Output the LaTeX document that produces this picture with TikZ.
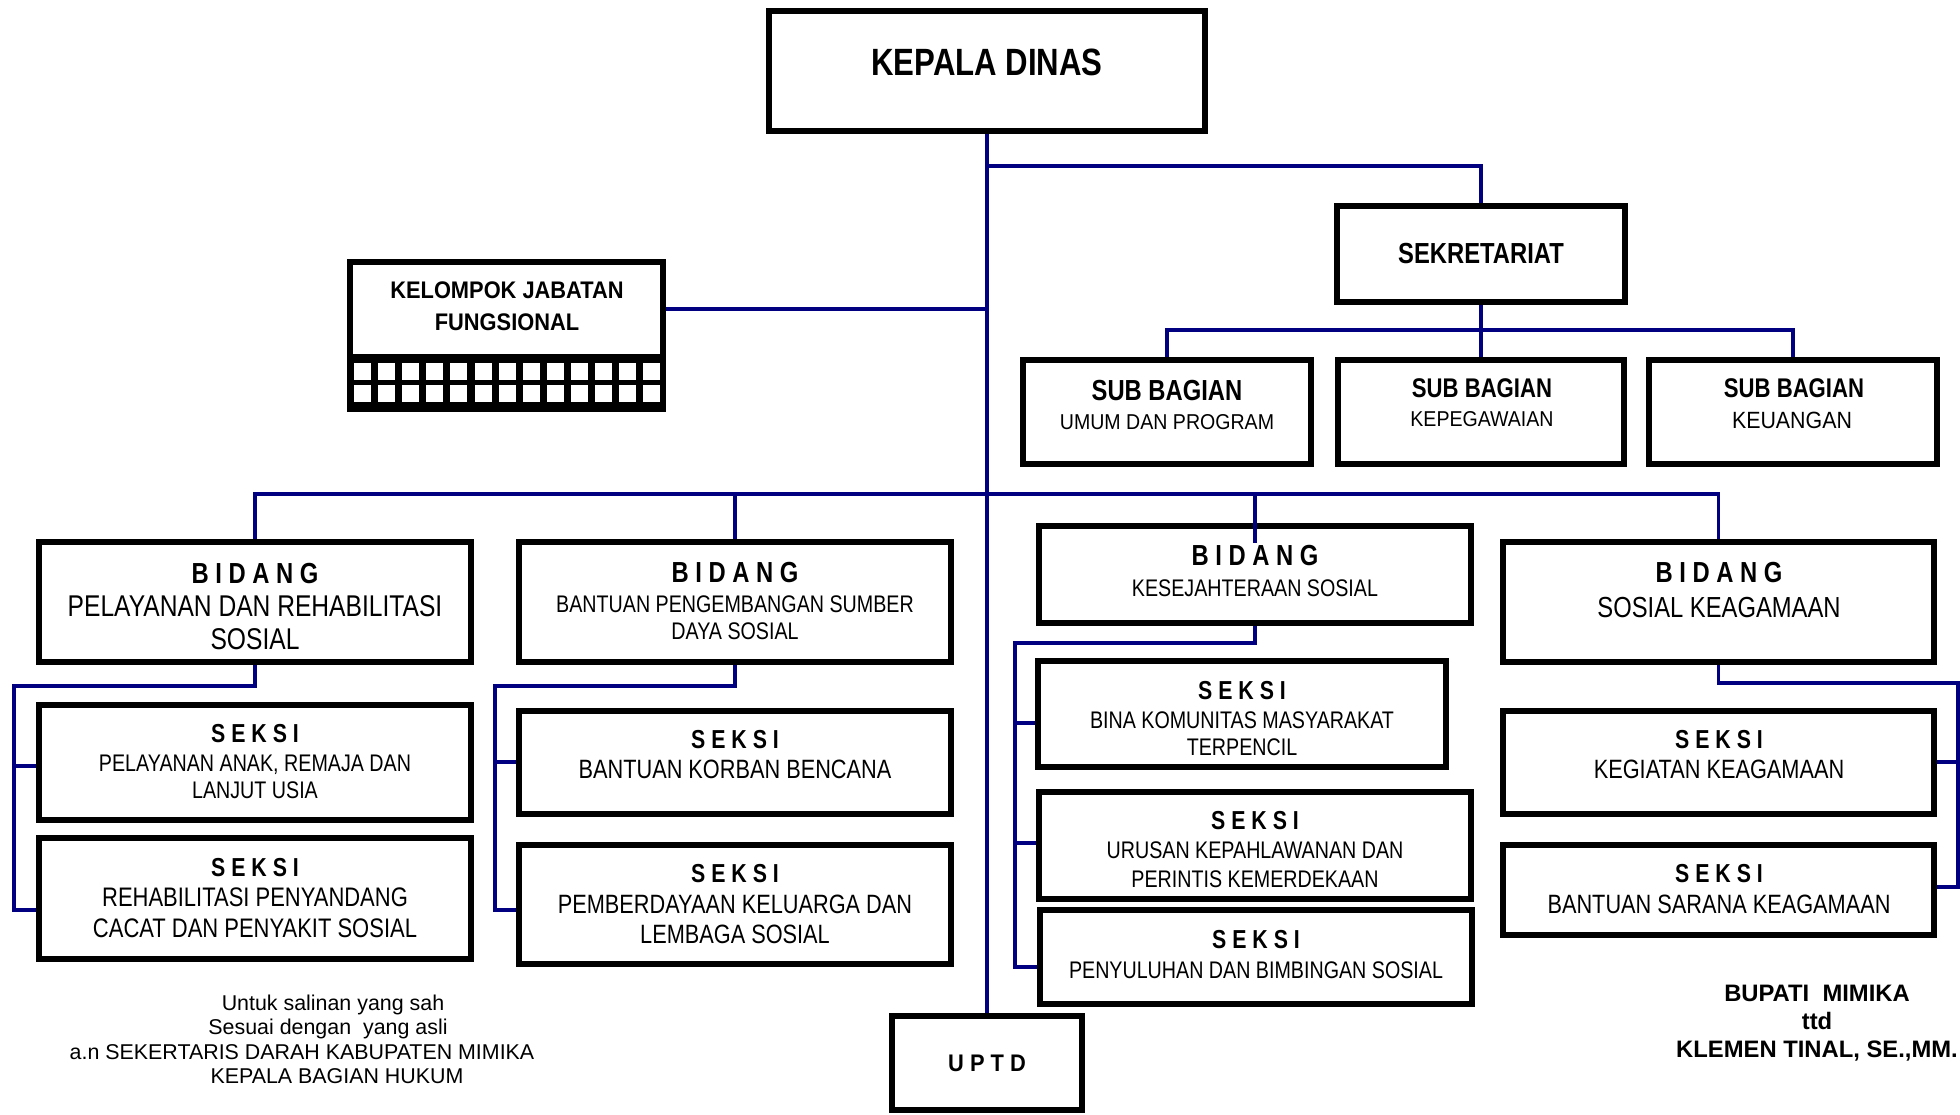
\documentclass[tikz,border=0pt]{standalone}
\usepackage{fontspec}
\setmainfont{Liberation Sans}
\newfontfamily\narrowf[FakeStretch=0.82]{Liberation Sans}
\newfontfamily\semif[FakeStretch=0.91]{Liberation Sans}
\newcommand\fNB[1]{\narrowf\bfseries\fontsize{#1}{#1}\selectfont}
\newcommand\fNR[1]{\narrowf\fontsize{#1}{#1}\selectfont}
\newcommand\fSB[1]{\semif\bfseries\fontsize{#1}{#1}\selectfont}
\newcommand\fSR[1]{\semif\fontsize{#1}{#1}\selectfont}
\newcommand\fPR[1]{\fontsize{#1}{#1}\selectfont}
\newcommand\fPB[1]{\bfseries\fontsize{#1}{#1}\selectfont}
\definecolor{navy}{RGB}{0,0,128}
\tikzset{
  box/.style={draw=black, line width=6pt, fill=white, inner sep=0pt},
  conn/.style={draw=navy, line width=3.2pt},
  txt/.style={anchor=base, inner sep=0pt},
}
% box by its outer corners: name, x1, y1, x2, y2
\newcommand\obox[5]{\node[box, minimum width={(#4-#2-6)*1pt}, minimum height={(#5-#3-6)*1pt}] (#1) at ({(#2+#4)/2},{(#3+#5)/2}) {};}
% one line of text on its baseline: name, font, position, text
\newcommand\lbl[4]{\node[txt, font=#2] (#1) at (#3) {#4};}
\begin{document}
\begin{tikzpicture}[x=1pt,y=-1pt]
\useasboundingbox (0,0) rectangle (1960,1114);
\fill[white] (0,0) rectangle (1960,1114);

% ---- boxes ----
\obox{kd}{766}{8}{1208}{134}
\obox{sek}{1334}{203}{1628}{305}
\obox{sb1}{1020}{357}{1314}{467}
\obox{sb2}{1335}{357}{1627}{467}
\obox{sb3}{1646}{357}{1940}{467}
\obox{kel}{347}{259}{666}{412}
\obox{b1}{36}{539}{474}{665}
\obox{s11}{36}{702}{474}{823}
\obox{s12}{36}{835}{474}{962}
\obox{b2}{516}{539}{954}{665}
\obox{s21}{516}{708}{954}{817}
\obox{s22}{516}{842}{954}{967}
\obox{b3}{1036}{523}{1474}{626}
\obox{s31}{1035}{658}{1449}{770}
\obox{s32}{1036}{789}{1474}{902}
\obox{s33}{1037}{907}{1475}{1007}
\obox{b4}{1500}{539}{1937}{665}
\obox{s41}{1500}{708}{1937}{817}
\obox{s42}{1500}{842}{1937}{938}
\obox{uptd}{889}{1013}{1085}{1113}

% grid strip of the functional group box
\fill[black] (347,354) rectangle (666,412);
\foreach \i in {0,...,12}
  \foreach \r in {363,385}
    \fill[white] ({354+24.1*\i},\r) rectangle +(17,16.5);

% ---- texts ----
\lbl{kdt}{\fNB{38}}{987,75}{KEPALA DINAS}
\lbl{sekt}{\fNB{29}}{1481,263}{SEKRETARIAT}
\lbl{kelt1}{\fSB{24}}{507,298}{KELOMPOK JABATAN}
\lbl{kelt2}{\fSB{24}}{507,330}{FUNGSIONAL}

\lbl{sb1a}{\fNB{29}}{1167,400}{SUB BAGIAN}
\lbl{sb1b}{\fSR{21.5}}{1167,429}{UMUM DAN PROGRAM}
\lbl{sb2a}{\fNB{27}}{1482,397}{SUB BAGIAN}
\lbl{sb2b}{\fSR{21.5}}{1482,426}{KEPEGAWAIAN}
\lbl{sb3a}{\fNB{27}}{1794,397}{SUB BAGIAN}
\lbl{sb3b}{\fSR{23.5}}{1792,428}{KEUANGAN}

\lbl{b1a}{\fNB{29}}{255,583}{B I D A N G}
\lbl{b1b}{\fNR{30}}{255,616}{PELAYANAN DAN REHABILITASI}
\lbl{b1c}{\fNR{30}}{255,649}{SOSIAL}
\lbl{s11a}{\fNB{26}}{255,742}{S E K S I}
\lbl{s11b}{\fNR{24}}{255,771}{PELAYANAN ANAK, REMAJA DAN}
\lbl{s11c}{\fNR{24}}{255,798}{LANJUT USIA}
\lbl{s12a}{\fNB{26}}{255,876}{S E K S I}
\lbl{s12b}{\fNR{26.8}}{255,906}{REHABILITASI PENYANDANG}
\lbl{s12c}{\fNR{26.8}}{255,937}{CACAT DAN PENYAKIT SOSIAL}

\lbl{b2a}{\fNB{29}}{735,582}{B I D A N G}
\lbl{b2b}{\fNR{24}}{735,612}{BANTUAN PENGEMBANGAN SUMBER}
\lbl{b2c}{\fNR{24}}{735,639}{DAYA SOSIAL}
\lbl{s21a}{\fNB{26}}{735,748}{S E K S I}
\lbl{s21b}{\fNR{26.5}}{735,778}{BANTUAN KORBAN BENCANA}
\lbl{s22a}{\fNB{26}}{735,882}{S E K S I}
\lbl{s22b}{\fNR{26.5}}{735,913}{PEMBERDAYAAN KELUARGA DAN}
\lbl{s22c}{\fNR{26.5}}{735,943}{LEMBAGA SOSIAL}

\lbl{b3a}{\fNB{29}}{1255,565}{B I D A N G}
\lbl{b3b}{\fNR{24}}{1255,596}{KESEJAHTERAAN SOSIAL}
\lbl{s31a}{\fNB{26}}{1242,699}{S E K S I}
\lbl{s31b}{\fNR{24}}{1242,728}{BINA KOMUNITAS MASYARAKAT}
\lbl{s31c}{\fNR{24}}{1242,755}{TERPENCIL}
\lbl{s32a}{\fNB{26}}{1255,829}{S E K S I}
\lbl{s32b}{\fNR{24}}{1255,858}{URUSAN KEPAHLAWANAN DAN}
\lbl{s32c}{\fNR{24}}{1255,887}{PERINTIS KEMERDEKAAN}
\lbl{s33a}{\fNB{26}}{1256,948}{S E K S I}
\lbl{s33b}{\fNR{24}}{1256,978}{PENYULUHAN DAN BIMBINGAN SOSIAL}

\lbl{b4a}{\fNB{29}}{1719,582}{B I D A N G}
\lbl{b4b}{\fNR{29}}{1719,617}{SOSIAL KEAGAMAAN}
\lbl{s41a}{\fNB{26}}{1719,748}{S E K S I}
\lbl{s41b}{\fNR{26.5}}{1719,778}{KEGIATAN KEAGAMAAN}
\lbl{s42a}{\fNB{26}}{1719,882}{S E K S I}
\lbl{s42b}{\fNR{26.5}}{1719,913}{BANTUAN SARANA KEAGAMAAN}

\lbl{uptdt}{\fSB{24}}{987,1071}{U P T D}

\lbl{f1}{\fPR{21.4}}{333,1010}{Untuk salinan yang sah}
\lbl{f2}{\fPR{21.4}}{328,1034}{Sesuai dengan\ \ yang asli}
\lbl{f3}{\fPR{21.4}}{302,1059}{a.n SEKERTARIS DARAH KABUPATEN MIMIKA}
\lbl{f4}{\fPR{21.4}}{337,1083}{KEPALA BAGIAN HUKUM}

\lbl{g1}{\fPB{23.8}}{1817,1001}{BUPATI\ \ MIMIKA}
\lbl{g2}{\fPB{23.8}}{1817,1029}{ttd}
\lbl{g3}{\fPB{23.8}}{1817,1057}{KLEMEN TINAL, SE.,MM.}

% ---- connectors ----
\coordinate (jsek) at (987,166);
\coordinate (jkel) at (987,309);
\coordinate (jbid) at (987,494);
\coordinate (jsub) at (1481,330);

\draw[conn] (kd.south) -- (uptd.north);
\draw[conn] (jsek) -| (sek.north);
\draw[conn] (kel.east |- jkel) -- (jkel);
\draw[conn] (sek.south) -- (sb2.north);
\draw[conn] (sb1.north) -- (sb1.north |- jsub) -- (sb3.north |- jsub) -- (sb3.north);
\draw[conn] (b1.north) -- (b1.north |- jbid) -- (b4.north |- jbid) -- (b4.north);
\draw[conn] (b2.north |- jbid) -- (b2.north);
\draw[conn] (b3.north |- jbid) -- ([yshift=-20pt]b3.north);

% bidang 1 bracket
\coordinate (k1) at (14,686);
\coordinate (k1a) at (14,766);
\coordinate (k1b) at (14,910);
\draw[conn] (b1.south) -- (b1.south |- k1) -- (k1) -- (k1b) -- (k1b -| s12.west);
\draw[conn] (k1a) -- (k1a -| s11.west);

% bidang 2 bracket
\coordinate (k2) at (495,686);
\coordinate (k2a) at (495,762);
\coordinate (k2b) at (495,910);
\draw[conn] (b2.south) -- (b2.south |- k2) -- (k2) -- (k2b) -- (k2b -| s22.west);
\draw[conn] (k2a) -- (k2a -| s21.west);

% bidang 3 bracket
\coordinate (k3) at (1015,643);
\coordinate (k3a) at (1015,723);
\coordinate (k3b) at (1015,843);
\coordinate (k3c) at (1015,967);
\draw[conn] (b3.south) -- (b3.south |- k3) -- (k3) -- (k3c) -- (k3c -| s33.west);
\draw[conn] (k3a) -- (k3a -| s31.west);
\draw[conn] (k3b) -- (k3b -| s32.west);

% bidang 4 bracket
\coordinate (k4) at (1958,683);
\coordinate (k4a) at (1958,762);
\coordinate (k4b) at (1958,887);
\draw[conn] (b4.south) -- (b4.south |- k4) -- (k4) -- (k4b) -- (k4b -| s42.east);
\draw[conn] (k4a) -- (k4a -| s41.east);
\end{tikzpicture}
\end{document}
